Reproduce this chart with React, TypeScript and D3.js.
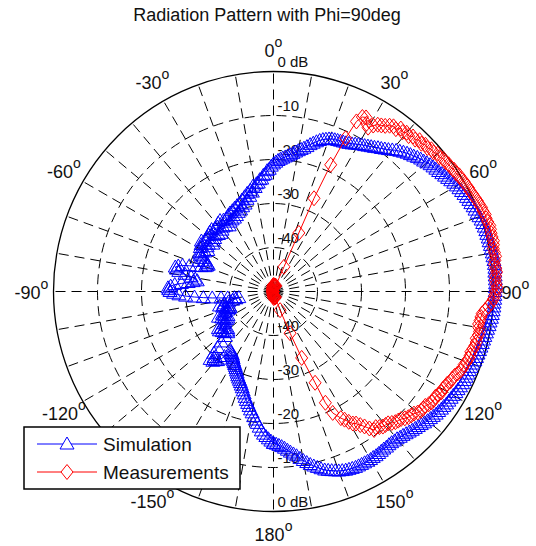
import React, { useRef, useEffect } from 'react';
import * as d3 from 'd3';

const title = 'Radiation Pattern with Phi=90deg';

// polar grid
const ringDb = [-40, -30, -20, -10];
const dbLabels = [-40, -30, -20, -10, 0];
const spokeAngles = d3.range(0, 360, 10);
const angleTicks = [0, 30, 60, 90, 120, 150, 180, 210, 240, 270, 300, 330];
const angleTickLabels = ['0', '30', '60', '90', '120', '150', '180', '-150', '-120', '-90', '-60', '-30'];

// Simulation: theta -180..180 every 1 deg, value in dB
const simAngles = d3.range(-180, 181, 1);
const simDb = [
  -15.5, -16.0, -16.5, -17.0, -17.5, -18.2, -19.0, -19.8, -20.5, -21.2,
  -22.0, -22.6, -23.3, -23.9, -24.5, -25.1, -25.8, -26.4, -27.0, -27.5,
  -28.0, -28.4, -28.8, -29.2, -29.7, -30.1, -30.5, -30.9, -31.2, -31.5,
  -31.8, -32.2, -32.5, -32.8, -33.0, -33.2, -33.4, -31.5, -30.5, -29.8,
  -29.5, -29.0, -29.8, -28.9, -30.5, -32.0, -33.5, -35.0, -36.0, -36.3,
  -35.5, -36.6, -35.2, -36.0, -34.8, -35.6, -34.9, -36.5, -37.0, -37.6,
  -38.0, -37.2, -38.3, -36.8, -37.6, -36.2, -37.3, -38.0, -38.8, -39.2,
  -39.5, -38.6, -39.4, -37.9, -38.2, -37.3, -38.4, -39.5, -40.5, -41.3,
  -42.0, -41.0, -39.5, -38.0, -36.0, -34.0, -32.0, -30.0, -28.5, -27.3,
  -26.5, -26.2, -26.0, -26.6, -27.5, -29.0, -30.5, -31.6, -32.5, -32.0,
  -31.0, -29.5, -28.0, -27.4, -27.0, -27.6, -28.5, -30.0, -31.5, -32.6,
  -33.5, -33.8, -34.0, -33.6, -33.0, -32.2, -31.5, -31.2, -31.0, -31.5,
  -32.0, -30.6, -32.4, -30.4, -31.8, -30.0, -31.7, -30.6, -32.5, -30.8,
  -32.2, -30.5, -32.0, -30.2, -31.6, -30.1, -32.0, -30.5, -32.2, -30.6,
  -31.8, -30.0, -31.4, -29.8, -31.6, -30.2, -32.0, -30.3, -31.4, -29.9,
  -31.2, -29.6, -31.1, -29.4, -30.8, -29.1, -30.3, -28.8, -30.0, -28.5,
  -29.5, -28.0, -29.1, -27.5, -28.2, -26.9, -27.7, -26.4, -26.9, -25.6,
  -26.0, -25.2, -25.1, -24.4, -24.3, -23.5, -23.3, -22.5, -22.2, -21.5,
  -21.0, -20.6, -20.2, -19.9, -19.6, -19.3, -19.0, -18.7, -18.3, -17.9,
  -17.5, -17.1, -16.7, -16.2, -15.6, -15.1, -14.6, -14.1, -13.7, -13.4,
  -13.1, -12.9, -12.8, -12.7, -12.6, -12.5, -12.4, -12.2, -12.0, -11.7,
  -11.4, -11.1, -10.9, -10.6, -10.3, -10.0, -9.6, -9.3, -8.9, -8.5,
  -8.0, -7.5, -7.1, -6.7, -6.3, -6.0, -5.7, -5.3, -5.0, -4.8,
  -4.5, -4.2, -4.0, -3.8, -3.6, -3.3, -3.1, -2.8, -2.5, -2.2,
  -2.0, -1.8, -1.6, -1.4, -1.2, -1.0, -0.9, -0.7, -0.6, -0.4,
  -0.3, -0.1, 0.0, 0.1, 0.2, 0.2, 0.3, 0.3, 0.4, 0.4,
  0.5, 0.5, 0.6, 0.6, 0.6, 0.5, 0.5, 0.5, 0.5, 0.4,
  0.4, 0.3, 0.3, 0.2, 0.2, 0.1, 0.0, -0.1, -0.3, -0.4,
  -0.6, -0.7, -0.9, -1.0, -1.1, -1.2, -1.3, -1.4, -1.5, -1.6,
  -1.8, -1.9, -2.0, -2.0, -2.1, -2.1, -2.2, -2.3, -2.5, -2.6,
  -2.8, -2.9, -3.0, -3.1, -3.3, -3.4, -3.6, -3.7, -3.9, -4.1,
  -4.3, -4.5, -4.8, -5.0, -5.2, -5.4, -5.6, -5.8, -6.0, -6.1,
  -6.3, -6.3, -6.4, -6.4, -6.3, -6.3, -6.2, -6.1, -6.0, -6.0,
  -5.9, -5.9, -5.9, -5.9, -5.9, -5.9, -6.0, -6.1, -6.2, -6.4,
  -6.6, -6.9, -7.2, -7.5, -7.8, -8.3, -8.8, -9.3, -9.8, -10.4,
  -11.0, -11.6, -12.3, -12.8, -13.3, -13.8, -14.3, -14.7, -15.0, -15.3,
  -15.5,
];

// Measurements: values below the -50 dB floor sit on the centre
const measCenterAngles = [
  162, 166, 170, 174, 178, 182, 186, 190, 196, 204, 214, 226, 240, 256, 270,
  284, 300, 314, 326, 336, 344, 350, 354, 358, 2, 6, 10, 14, 18, 21,
];
const measCenterDb = [
  -48.6, -48.8, -48.6, -48.9, -48.5, -48.8, -49.0, -49.2, -49.4, -49.6, -49.7, -49.8, -49.8, -49.9, -49.9,
  -49.9, -49.8, -49.7, -49.6, -49.4, -49.2, -49.0, -48.8, -48.6, -48.5, -48.7, -48.8, -48.6, -48.9, -48.6,
];
const measRiseAngles = [23, 23.4, 23.5, 24.3, 25.2];
const measRiseDb = [-43.9, -35.5, -26.9, -18.4, -11.5];
const measMainAngles = d3.range(26, 153, 1);
const measMainDb = [
  -7.0, -5.5, -5.2, -6.4, -7.0, -6.0, -5.3, -5.0, -4.6, -4.0,
  -3.6, -3.8, -3.0, -3.4, -2.9, -3.2, -2.6, -2.8, -2.2, -2.5,
  -2.0, -2.2, -1.7, -1.8, -1.3, -1.5, -1.0, -1.1, -0.8, -0.8,
  -0.5, -0.6, -0.2, -0.3, 0.0, 0.0, 0.2, 0.2, 0.4, 0.5,
  0.7, 0.8, 1.0, 1.0, 1.2, 1.1, 1.2, 1.4, 1.3, 1.2,
  1.2, 1.3, 1.1, 0.9, 1.0, 1.1, 0.8, 0.6, 0.8, 0.9,
  0.6, 0.5, 0.6, 0.8, 0.5, 0.3, 0.0, -0.5, -1.0, -1.7,
  -2.3, -2.5, -2.6, -2.8, -2.6, -2.3, -2.4, -2.7, -2.5, -2.6,
  -2.8, -3.1, -3.0, -3.1, -3.3, -3.6, -3.6, -3.8, -4.2, -4.6,
  -4.8, -4.9, -5.3, -5.4, -5.6, -5.5, -5.8, -6.1, -6.0, -6.1,
  -6.4, -6.8, -6.8, -6.9, -7.2, -7.7, -7.9, -8.1, -8.5, -9.0,
  -9.2, -9.4, -9.8, -10.3, -10.4, -10.5, -10.9, -11.4, -11.1, -12.0,
  -13.0, -13.8, -14.6, -15.0, -15.8, -16.7, -17.4,
];
const measFallAngles = [154, 155, 155.5, 157, 158.3, 160.6];
const measFallDb = [-19.3, -22.1, -27.2, -33.6, -39.8, -45.5];

const seriesNames = ['Simulation', 'Measurements'];

const FONT = "'Liberation Sans', Arial, Helvetica, sans-serif";

const RadiationChart = () => {
  const ref = useRef(null);

  useEffect(() => {
    if (!ref.current) return;
    const width = 536;
    const height = 546;
    const cx = 273.5;
    const cy = 291.5;
    const R = 220;

    const svg = d3.select(ref.current);
    svg.selectAll('*').remove();
    svg.attr('width', width).attr('height', height);

    const rScale = d3.scaleLinear().domain([-50, 0]).range([0, R]);
    const rad = (db) => Math.max(0, rScale(db));
    const px = (deg, db) => cx + rad(db) * Math.sin((deg * Math.PI) / 180);
    const py = (deg, db) => cy - rad(db) * Math.cos((deg * Math.PI) / 180);

    // title
    svg.append('text')
      .attr('x', 267)
      .attr('y', 21)
      .attr('text-anchor', 'middle')
      .attr('font-family', FONT)
      .attr('font-size', 18)
      .attr('fill', '#111')
      .text(title);

    const grid = svg.append('g');

    // spokes
    spokeAngles.forEach((a) => {
      grid.append('line')
        .attr('x1', cx)
        .attr('y1', cy)
        .attr('x2', px(a, 0))
        .attr('y2', py(a, 0))
        .attr('stroke', '#000')
        .attr('stroke-width', 1)
        .attr('stroke-dasharray', '10,6');
    });

    // dashed rings
    ringDb.forEach((d) => {
      grid.append('circle')
        .attr('cx', cx)
        .attr('cy', cy)
        .attr('r', rScale(d))
        .attr('fill', 'none')
        .attr('stroke', '#000')
        .attr('stroke-width', 1)
        .attr('stroke-dasharray', '10,6');
    });

    // outer circle
    grid.append('circle')
      .attr('cx', cx)
      .attr('cy', cy)
      .attr('r', R)
      .attr('fill', 'none')
      .attr('stroke', '#000')
      .attr('stroke-width', 1.3);

    // dB labels, above and below centre
    dbLabels.forEach((d) => {
      const txt = d === 0 ? '0 dB' : String(d);
      [-1, 1].forEach((s) => {
        grid.append('text')
          .attr('x', cx + 4)
          .attr('y', cy + s * rScale(d) - 5)
          .attr('font-family', FONT)
          .attr('font-size', 15)
          .attr('fill', '#111')
          .text(txt);
      });
    });

    // angle labels
    const rLab = 242;
    angleTicks.forEach((a, i) => {
      const x = cx + rLab * Math.sin((a * Math.PI) / 180);
      const y = cy - rLab * Math.cos((a * Math.PI) / 180);
      const t = grid.append('text')
        .attr('x', x)
        .attr('y', y + 7)
        .attr('text-anchor', 'middle')
        .attr('font-family', FONT)
        .attr('font-size', 18)
        .attr('fill', '#111');
      t.append('tspan').text(angleTickLabels[i]);
      t.append('tspan').attr('dy', -10).attr('font-size', 14).text('o');
    });

    const triangle = 'M0,-7L7,5L-7,5Z';
    const diamond = 'M0,-7.5L6,0L0,7.5L-6,0Z';

    const sim = simAngles.map((a, i) => ({ a, v: simDb[i] }));
    const measA = [...measCenterAngles, ...measRiseAngles, ...measMainAngles, ...measFallAngles];
    const measV = [...measCenterDb, ...measRiseDb, ...measMainDb, ...measFallDb];
    const meas = measA.map((a, i) => ({ a, v: measV[i] }));

    const line = d3.line()
      .x((d) => px(d.a, d.v))
      .y((d) => py(d.a, d.v));

    const plot = svg.append('g');

    plot.append('path')
      .attr('d', line(sim))
      .attr('fill', 'none')
      .attr('stroke', '#0000ff')
      .attr('stroke-width', 1);

    plot.selectAll('path.sim')
      .data(sim)
      .enter()
      .append('path')
      .attr('class', 'sim')
      .attr('d', triangle)
      .attr('transform', (d) => `translate(${px(d.a, d.v)},${py(d.a, d.v)})`)
      .attr('fill', 'none')
      .attr('stroke', '#0000ff')
      .attr('stroke-width', 1);

    plot.append('path')
      .attr('d', line.curve(d3.curveLinearClosed)(meas))
      .attr('fill', 'none')
      .attr('stroke', '#ff0000')
      .attr('stroke-width', 1);

    plot.selectAll('path.meas')
      .data(meas)
      .enter()
      .append('path')
      .attr('class', 'meas')
      .attr('d', diamond)
      .attr('transform', (d) => `translate(${px(d.a, d.v)},${py(d.a, d.v)})`)
      .attr('fill', 'none')
      .attr('stroke', '#ff0000')
      .attr('stroke-width', 1);

    // legend
    const lg = svg.append('g');
    lg.append('rect')
      .attr('x', 24)
      .attr('y', 427)
      .attr('width', 216)
      .attr('height', 62)
      .attr('fill', '#fff')
      .attr('stroke', '#000')
      .attr('stroke-width', 1.5);

    const colors = ['#0000ff', '#ff0000'];
    const shapes = [triangle, diamond];
    seriesNames.forEach((name, i) => {
      const y = 444 + i * 28;
      lg.append('line')
        .attr('x1', 37)
        .attr('x2', 97)
        .attr('y1', y)
        .attr('y2', y)
        .attr('stroke', colors[i])
        .attr('stroke-width', 1);
      lg.append('path')
        .attr('d', shapes[i])
        .attr('transform', `translate(67,${y})`)
        .attr('fill', '#fff')
        .attr('stroke', colors[i])
        .attr('stroke-width', 1);
      lg.append('text')
        .attr('x', 103)
        .attr('y', y + 7)
        .attr('font-family', FONT)
        .attr('font-size', 19)
        .attr('fill', '#111')
        .text(name);
    });
  }, []);

  return <svg ref={ref} style={{ position: 'absolute', left: 0, top: 0, background: '#fff' }} />;
};

export default function App() {
  return <RadiationChart />;
}
